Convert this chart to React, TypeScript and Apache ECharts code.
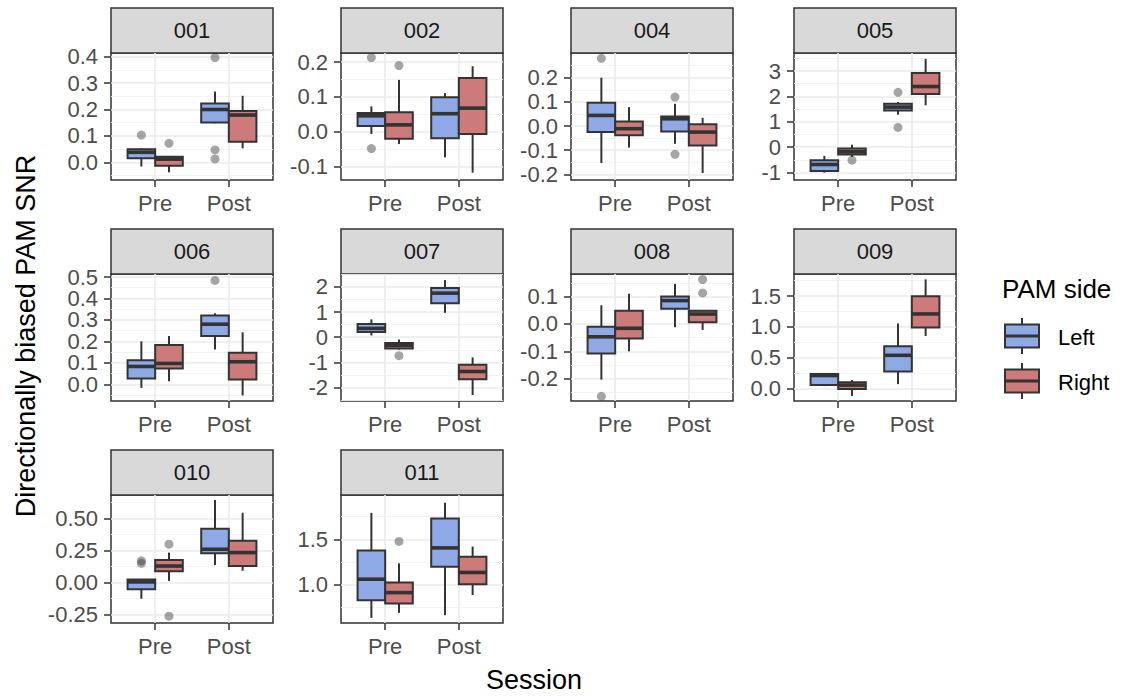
import React, { useEffect, useRef } from "react";
import * as echarts from "echarts";

const PANELS = ["001", "002", "004", "005", "006", "007", "008", "009", "010", "011"];
const SESSIONS = ["Pre", "Post"];
const SIDES = ["Left", "Right"];
const SIDE_COLORS = ["#8EA9E6", "#CC7A7A"];

// box stats [min, q1, median, q3, max] for Pre-Left, Pre-Right, Post-Left, Post-Right
const box001 = [[-0.016, 0.015, 0.038, 0.049, 0.053], [-0.038, -0.013, 0.012, 0.021, 0.021], [0.148, 0.151, 0.2, 0.223, 0.268], [0.053, 0.078, 0.179, 0.194, 0.252]];
const box002 = [[-0.006, 0.017, 0.046, 0.054, 0.073], [-0.035, -0.02, 0.02, 0.056, 0.149], [-0.073, -0.018, 0.052, 0.099, 0.111], [-0.117, -0.006, 0.068, 0.154, 0.188]];
const box004 = [[-0.153, -0.025, 0.044, 0.096, 0.2], [-0.089, -0.038, -0.011, 0.019, 0.078], [-0.073, -0.022, 0.03, 0.04, 0.092], [-0.194, -0.08, -0.025, 0.007, 0.034]];
const box005 = [[-1.0, -0.94, -0.68, -0.51, -0.34], [-0.38, -0.29, -0.18, -0.05, 0.1], [1.28, 1.45, 1.58, 1.71, 1.78], [1.65, 2.1, 2.39, 2.92, 3.48]];
const box006 = [[-0.017, 0.027, 0.083, 0.112, 0.2], [0.014, 0.073, 0.097, 0.183, 0.225], [0.162, 0.225, 0.28, 0.32, 0.331], [-0.052, 0.022, 0.105, 0.147, 0.242]];
const box007 = [[0.07, 0.21, 0.35, 0.53, 0.71], [-0.49, -0.45, -0.32, -0.23, -0.09], [0.97, 1.35, 1.75, 1.95, 2.27], [-2.29, -1.67, -1.36, -1.09, -0.8]];
const box008 = [[-0.203, -0.108, -0.047, -0.01, 0.068], [-0.1, -0.053, -0.016, 0.048, 0.11], [-0.012, 0.055, 0.085, 0.1, 0.146], [-0.022, 0.006, 0.036, 0.048, 0.048]];
const box009 = [[0.038, 0.055, 0.21, 0.236, 0.247], [-0.12, -0.01, 0.055, 0.1, 0.137], [0.071, 0.275, 0.538, 0.687, 1.055], [0.852, 0.99, 1.209, 1.495, 1.77]];
const box010 = [[-0.126, -0.053, 0.005, 0.024, 0.024], [0.013, 0.089, 0.129, 0.176, 0.234], [0.137, 0.229, 0.26, 0.42, 0.645], [0.092, 0.129, 0.234, 0.326, 0.545]];
const box011 = [[0.637, 0.83, 1.063, 1.378, 1.793], [0.693, 0.796, 0.915, 1.026, 1.237], [0.667, 1.2, 1.407, 1.73, 1.904], [0.889, 1.007, 1.137, 1.311, 1.422]];
const BOXES = [box001, box002, box004, box005, box006, box007, box008, box009, box010, box011];

// outliers [sessionIndex, sideIndex, value]
const out001 = [[0, 0, 0.103], [0, 1, 0.072], [1, 0, 0.397], [1, 0, 0.047], [1, 0, 0.013]];
const out002 = [[0, 0, 0.213], [0, 0, -0.048], [0, 1, 0.19]];
const out004 = [[0, 0, 0.28], [1, 0, 0.12], [1, 0, -0.117]];
const out005 = [[0, 1, -0.51], [1, 0, 2.16], [1, 0, 0.78]];
const out006 = [[1, 0, 0.484]];
const out007 = [[0, 1, -0.73]];
const out008 = [[0, 0, -0.264], [1, 1, 0.162], [1, 1, 0.113]];
const out009: number[][] = [];
const out010 = [[0, 0, 0.17], [0, 0, 0.15], [0, 1, 0.3], [0, 1, -0.263]];
const out011 = [[0, 1, 1.478]];
const OUTLIERS = [out001, out002, out004, out005, out006, out007, out008, out009, out010, out011];

// y axis extents and tick values per panel
const Y_MIN = [-0.067, -0.138, -0.223, -1.29, -0.078, -2.53, -0.281, -0.203, -0.316, 0.581];
const Y_MAX = [0.414, 0.226, 0.302, 3.71, 0.514, 2.51, 0.182, 1.857, 0.684, 1.989];
const Y_TICKS = [
  [0, 0.1, 0.2, 0.3, 0.4],
  [-0.1, 0, 0.1, 0.2],
  [-0.2, -0.1, 0, 0.1, 0.2],
  [-1, 0, 1, 2, 3],
  [0, 0.1, 0.2, 0.3, 0.4, 0.5],
  [-2, -1, 0, 1, 2],
  [-0.2, -0.1, 0, 0.1],
  [0, 0.5, 1, 1.5],
  [-0.25, 0, 0.25, 0.5],
  [1, 1.5],
];
const Y_DECIMALS = [1, 1, 1, 0, 1, 0, 1, 1, 2, 1];

const FONT = "'Liberation Sans', Arial, Helvetica, sans-serif";
const COL_LEFT = [111, 341, 571, 794];
const ROW_TOP = [53, 274, 495];
const ROW_H = [127, 127, 128];
const PLOT_W = 162;
const STRIP_H = 45;
const DODGE = 0.1875;
const BOX_W = 0.375;

function minorValues(ticks: number[], lo: number, hi: number) {
  const step = ticks.length > 1 ? ticks[1] - ticks[0] : 0.5;
  const res: number[] = [];
  for (let k = -1; k < ticks.length; k++) {
    const v = ticks[0] + step * k + step / 2;
    if (v > lo && v < hi) res.push(+v.toFixed(6));
  }
  return res;
}

export default function App() {
  const ref = useRef<HTMLDivElement>(null);
  useEffect(() => {
    document.body.style.margin = "0";
    if (!ref.current) return;
    const chart = echarts.init(ref.current, undefined, { renderer: "svg" });

    const grids: any[] = [];
    const xAxes: any[] = [];
    const yAxes: any[] = [];
    const series: any[] = [];
    const graphics: any[] = [];

    PANELS.forEach((name, i) => {
      const col = i % 4;
      const row = Math.floor(i / 4);
      const left = COL_LEFT[col];
      const top = ROW_TOP[row];
      const h = ROW_H[row];
      grids.push({
        left, top, width: PLOT_W, height: h,
        show: true, borderColor: "#333333", borderWidth: 1.5, backgroundColor: "#ffffff",
        containLabel: false, outerBoundsMode: "none",
      });
      xAxes.push({
        type: "value", gridIndex: i, min: 0.4, max: 2.6, position: "bottom",
        axisLine: { show: false, onZero: false },
        axisTick: { show: true, customValues: [1, 2], length: 7, lineStyle: { color: "#333333", width: 1.5 } },
        axisLabel: {
          customValues: [1, 2], formatter: (v: number) => SESSIONS[Math.round(v) - 1],
          color: "#4D4D4D", fontSize: 22, fontFamily: FONT, margin: 12,
          showMinLabel: true, showMaxLabel: true,
        },
        splitLine: { show: true, lineStyle: { color: "#EBEBEB", width: 1.6 } },
      });
      const ticks = Y_TICKS[i];
      const dec = Y_DECIMALS[i];
      const evenTicks = ticks.filter((_, k) => k % 2 === 0);
      const oddTicks = ticks.filter((_, k) => k % 2 === 1);
      const labelStyle = {
        formatter: (v: number) => v.toFixed(dec),
        color: "#4D4D4D", fontSize: 22, fontFamily: FONT, margin: 13,
        showMinLabel: true, showMaxLabel: true, hideOverlap: false,
      };
      // main axis: ticks, major grid, labels for every other tick
      yAxes.push({
        type: "value", gridIndex: i, min: Y_MIN[i], max: Y_MAX[i], position: "left",
        axisLine: { show: false, onZero: false },
        axisTick: { show: true, customValues: ticks, length: 7, lineStyle: { color: "#333333", width: 1.5 } },
        axisLabel: { ...labelStyle, customValues: evenTicks },
        splitLine: { show: true, lineStyle: { color: "#EBEBEB", width: 1.6 } },
      });
      // companion axis at same place: labels for remaining ticks
      yAxes.push({
        type: "value", gridIndex: i, min: Y_MIN[i], max: Y_MAX[i], position: "left",
        axisLine: { show: false, onZero: false },
        axisTick: { show: false, customValues: oddTicks.length ? oddTicks : evenTicks },
        axisLabel: { ...labelStyle, show: oddTicks.length > 0, customValues: oddTicks.length ? oddTicks : evenTicks },
        splitLine: { show: false },
      });
      // minor grid axis
      const minors = minorValues(ticks, Y_MIN[i], Y_MAX[i]);
      yAxes.push({
        type: "value", gridIndex: i, min: Y_MIN[i], max: Y_MAX[i], position: "right",
        axisLine: { show: false, onZero: false },
        axisTick: { show: false, customValues: minors },
        axisLabel: { show: false, customValues: minors },
        splitLine: { show: true, lineStyle: { color: "#F0F0F0", width: 0.9 } },
      });

      const boxData = BOXES[i].map((s, k) => {
        const sess = Math.floor(k / 2);
        const side = k % 2;
        return [sess + 1 + (side ? DODGE : -DODGE), s[0], s[1], s[2], s[3], s[4], side];
      });
      series.push({
        type: "custom", xAxisIndex: i, yAxisIndex: 3 * i, z: 3,
        encode: { x: 0, y: [1, 2, 3, 4, 5] },
        data: boxData,
        renderItem: (params: any, api: any) => {
          const x = api.value(0);
          const lo = api.coord([x, api.value(1)]);
          const q1 = api.coord([x, api.value(2)]);
          const md = api.coord([x, api.value(3)]);
          const q3 = api.coord([x, api.value(4)]);
          const hi = api.coord([x, api.value(5)]);
          const side = api.value(6);
          const w = api.size([BOX_W, 0])[0];
          const cx = lo[0];
          return {
            type: "group",
            children: [
              { type: "line", shape: { x1: cx, y1: lo[1], x2: cx, y2: q1[1] }, style: { stroke: "#333333", lineWidth: 2 } },
              { type: "line", shape: { x1: cx, y1: q3[1], x2: cx, y2: hi[1] }, style: { stroke: "#333333", lineWidth: 2 } },
              {
                type: "rect",
                shape: { x: cx - w / 2, y: q3[1], width: w, height: q1[1] - q3[1] },
                style: { fill: SIDE_COLORS[side], stroke: "#333333", lineWidth: 2 },
              },
              { type: "line", shape: { x1: cx - w / 2, y1: md[1], x2: cx + w / 2, y2: md[1] }, style: { stroke: "#333333", lineWidth: 3.6 } },
            ],
          };
        },
      });
      series.push({
        type: "scatter", xAxisIndex: i, yAxisIndex: 3 * i, z: 4,
        symbolSize: 9,
        itemStyle: { color: "rgba(51,51,51,0.55)" },
        data: OUTLIERS[i].map((o) => [o[0] + 1 + (o[1] ? DODGE : -DODGE), o[2]]),
      });

      graphics.push({
        type: "rect",
        shape: { x: left, y: top - STRIP_H, width: PLOT_W, height: STRIP_H },
        style: { fill: "#D9D9D9", stroke: "#333333", lineWidth: 1.5 },
      });
      graphics.push({
        type: "text",
        x: left + PLOT_W / 2, y: top - STRIP_H / 2,
        style: { text: name, fill: "#1A1A1A", fontSize: 22, fontFamily: FONT, align: "center", verticalAlign: "middle" },
      });
    });

    graphics.push({
      type: "text", x: 534, y: 680,
      style: { text: "Session", fill: "#000000", fontSize: 27, fontFamily: FONT, align: "center", verticalAlign: "middle" },
    });
    graphics.push({
      type: "text", x: 26, y: 336, rotation: Math.PI / 2,
      style: { text: "Directionally biased PAM SNR", fill: "#000000", fontSize: 27, fontFamily: FONT, align: "center", verticalAlign: "middle" },
    });
    graphics.push({
      type: "text", x: 1002, y: 289,
      style: { text: "PAM side", fill: "#000000", fontSize: 26, fontFamily: FONT, align: "left", verticalAlign: "middle" },
    });
    SIDES.forEach((s, k) => {
      const cy = 336 + k * 45;
      graphics.push({ type: "line", shape: { x1: 1022, y1: cy - 18, x2: 1022, y2: cy + 18 }, style: { stroke: "#333333", lineWidth: 2 } });
      graphics.push({ type: "rect", shape: { x: 1005, y: cy - 11.5, width: 34, height: 23 }, style: { fill: SIDE_COLORS[k], stroke: "#333333", lineWidth: 2 } });
      graphics.push({ type: "line", shape: { x1: 1005, y1: cy, x2: 1039, y2: cy }, style: { stroke: "#333333", lineWidth: 3 } });
      graphics.push({
        type: "text", x: 1058, y: cy + 1,
        style: { text: s, fill: "#000000", fontSize: 22, fontFamily: FONT, align: "left", verticalAlign: "middle" },
      });
    });

    chart.setOption({
      animation: false,
      backgroundColor: "#ffffff",
      textStyle: { fontFamily: FONT },
      grid: grids,
      xAxis: xAxes,
      yAxis: yAxes,
      series,
      graphic: { elements: graphics },
    });
    return () => chart.dispose();
  }, []);
  return <div ref={ref} style={{ width: 1131, height: 696 }} />;
}
